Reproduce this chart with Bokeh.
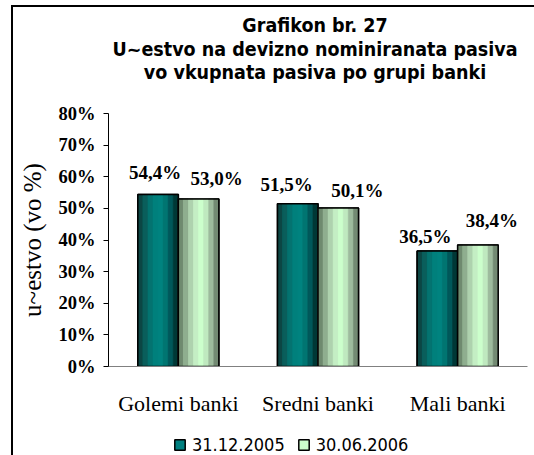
from bokeh.plotting import figure
from bokeh.models import (ColumnDataSource, NumeralTickFormatter, FixedTicker,
                          Legend, LegendItem, Range1d, FactorRange)
from bokeh.layouts import column
from bokeh.transform import dodge
from bokeh.core.properties import value
from bokeh.embed import file_html
from bokeh.resources import INLINE

# ---- data ----
categories = ["Golemi banki", "Sredni banki", "Mali banki"]
series_names = ["31.12.2005", "30.06.2006"]
values_2005 = [0.544, 0.515, 0.365]
values_2006 = [0.530, 0.501, 0.384]
y_ticks = [0.0, 0.1, 0.2, 0.3, 0.4, 0.5, 0.6, 0.7, 0.8]
title_lines = ["Grafikon br. 27",
               "U~estvo na devizno nominiranata pasiva",
               "vo vkupnata pasiva po grupi banki"]
y_label = "u~estvo (vo %)"

# label placement tweaks (screen px), as in the original
label_dx_2005 = [-3, -11, -12]
label_dy_2005 = [22, 19, 15]
label_dx_2006 = [18, 19, 14]
label_dy_2006 = [20, 18, 25]

def fmt(v):
    return f"{v*100:.1f}%".replace(".", ",")

src = ColumnDataSource(dict(
    cat=categories,
    v1=values_2005, v2=values_2006,
    l1=[fmt(v) for v in values_2005], l2=[fmt(v) for v in values_2006],
    dx1=label_dx_2005, dy1=[-d for d in label_dy_2005],
    dx2=label_dx_2006, dy2=[-d for d in label_dy_2006],
))

SERIF = "Liberation Serif"
COND = "DejaVu Sans Condensed"
DARK_MID = "#008080"
LIGHT_MID = "#ccffcc"

def bare(fig):
    fig.outline_line_color = None
    fig.xgrid.grid_line_color = None
    fig.ygrid.grid_line_color = None
    fig.background_fill_color = "white"
    fig.border_fill_color = "white"

# ---- title strip ----
n = len(title_lines)
tsrc = ColumnDataSource(dict(t=title_lines, row=[n - 1 - i for i in range(n)],
                             mid=[0.5] * n))
tf = figure(width=521, height=95, output_backend="svg", toolbar_location=None,
            x_axis_type=None, y_axis_type=None,
            x_range=Range1d(0, 1), y_range=Range1d(-1.28, 2.77),
            min_border_left=25, min_border_right=0, min_border_top=0,
            min_border_bottom=0)
bare(tf)
tf.text(x="mid", y="row", text="t", source=tsrc, text_align="center",
        x_offset=-3, text_baseline="middle", text_font=value(COND),
        text_font_style="bold", text_font_size="19.5px", text_color="black")

# ---- main chart ----
p = figure(width=521, height=318, x_range=categories, y_range=(0, 0.8),
           output_backend="svg", toolbar_location=None,
           min_border_left=95, min_border_right=7,
           min_border_top=11, min_border_bottom=54)
bare(p)

W = 0.29
OFF = 0.145
K = 8
dark_cols = ["#0c4644", "#0a5e5b", "#047370", "#00807c", "#00837f",
             "#007571", "#00585a", "#003836"]
light_cols = ["#6f8a6f", "#8fae8f", "#aed2ae", "#c4eec4", "#ccffcc",
              "#bfe9bf", "#9dbb9d", "#738a73"]

def bars(field, off, mid, cols):
    p.vbar(x=dodge("cat", off, range=p.x_range), top=field, width=W,
           source=src, fill_color=mid, line_color="black", line_width=1.5)
    sw = W / K
    for i, c in enumerate(cols):
        o = off - W / 2 + (i + 0.5) * sw
        p.vbar(x=dodge("cat", o, range=p.x_range), top=field, width=sw,
               source=src, fill_color=c, line_color=c, line_width=0.6)
    p.vbar(x=dodge("cat", off, range=p.x_range), top=field, width=W,
           source=src, fill_alpha=0, line_color="black", line_width=1.5)

bars("v1", -OFF, DARK_MID, dark_cols)
bars("v2", OFF, LIGHT_MID, light_cols)

for field, lab, dx, dy, off in [("v1", "l1", "dx1", "dy1", -OFF),
                                ("v2", "l2", "dx2", "dy2", OFF)]:
    p.text(x=dodge("cat", off, range=p.x_range), y=field, text=lab, source=src,
           x_offset=dx, y_offset=dy, text_align="center", text_baseline="middle",
           text_font=value(SERIF), text_font_style="bold",
           text_font_size="19px", text_color="black")

# y axis
ya = p.yaxis[0]
ya.ticker = FixedTicker(ticks=y_ticks)
ya.formatter = NumeralTickFormatter(format="0%")
ya.major_label_text_font = SERIF
ya.major_label_text_font_style = "bold"
ya.major_label_text_font_size = "18.5px"
ya.major_label_text_color = "black"
ya.major_tick_out = 5
ya.major_tick_in = 0
ya.minor_tick_line_color = None
ya.axis_line_color = "black"
ya.major_tick_line_color = "black"
ya.major_label_standoff = 8
ya.axis_label = y_label
ya.axis_label_text_font = SERIF
ya.axis_label_text_font_style = "normal"
ya.axis_label_text_font_size = "25px"
ya.axis_label_text_color = "black"
ya.axis_label_standoff = 10

# x axis
xa = p.xaxis[0]
xa.axis_line_color = "#808080"
xa.major_tick_line_color = None
xa.minor_tick_line_color = None
xa.major_tick_out = 0
xa.major_label_standoff = 24
xa.major_label_text_font = SERIF
xa.major_label_text_font_size = "22px"
xa.major_label_text_color = "black"

# ---- legend strip ----
lf = figure(width=521, height=35, output_backend="svg", toolbar_location=None,
            x_axis_type=None, y_axis_type=None,
            x_range=FactorRange(*categories), y_range=Range1d(0, 1),
            min_border_left=0, min_border_right=0, min_border_top=0,
            min_border_bottom=0)
bare(lf)
lr1 = lf.vbar(x="cat", top="v1", width=0.1, source=src, fill_color=DARK_MID,
              line_color="black", line_width=1.5, visible=False)
lr2 = lf.vbar(x="cat", top="v2", width=0.1, source=src, fill_color=LIGHT_MID,
              line_color="black", line_width=1.5, visible=False)
legend = Legend(items=[LegendItem(label=series_names[0], renderers=[lr1]),
                       LegendItem(label=series_names[1], renderers=[lr2])],
                orientation="horizontal", location=(65, 0),
                label_text_font=COND, label_text_font_size="18px",
                label_text_color="black", glyph_width=13, glyph_height=13,
                label_standoff=6, spacing=12, padding=0, margin=0,
                inactive_fill_alpha=0,
                border_line_color=None, background_fill_alpha=0)
lf.add_layout(legend)

layout = column(tf, p, lf, spacing=0)
layout.styles = {"border-left": "2px solid black", "border-top": "2px solid black",
                 "margin-left": "11px", "margin-top": "5px"}

open("out.html", "w").write(file_html(layout, INLINE))
